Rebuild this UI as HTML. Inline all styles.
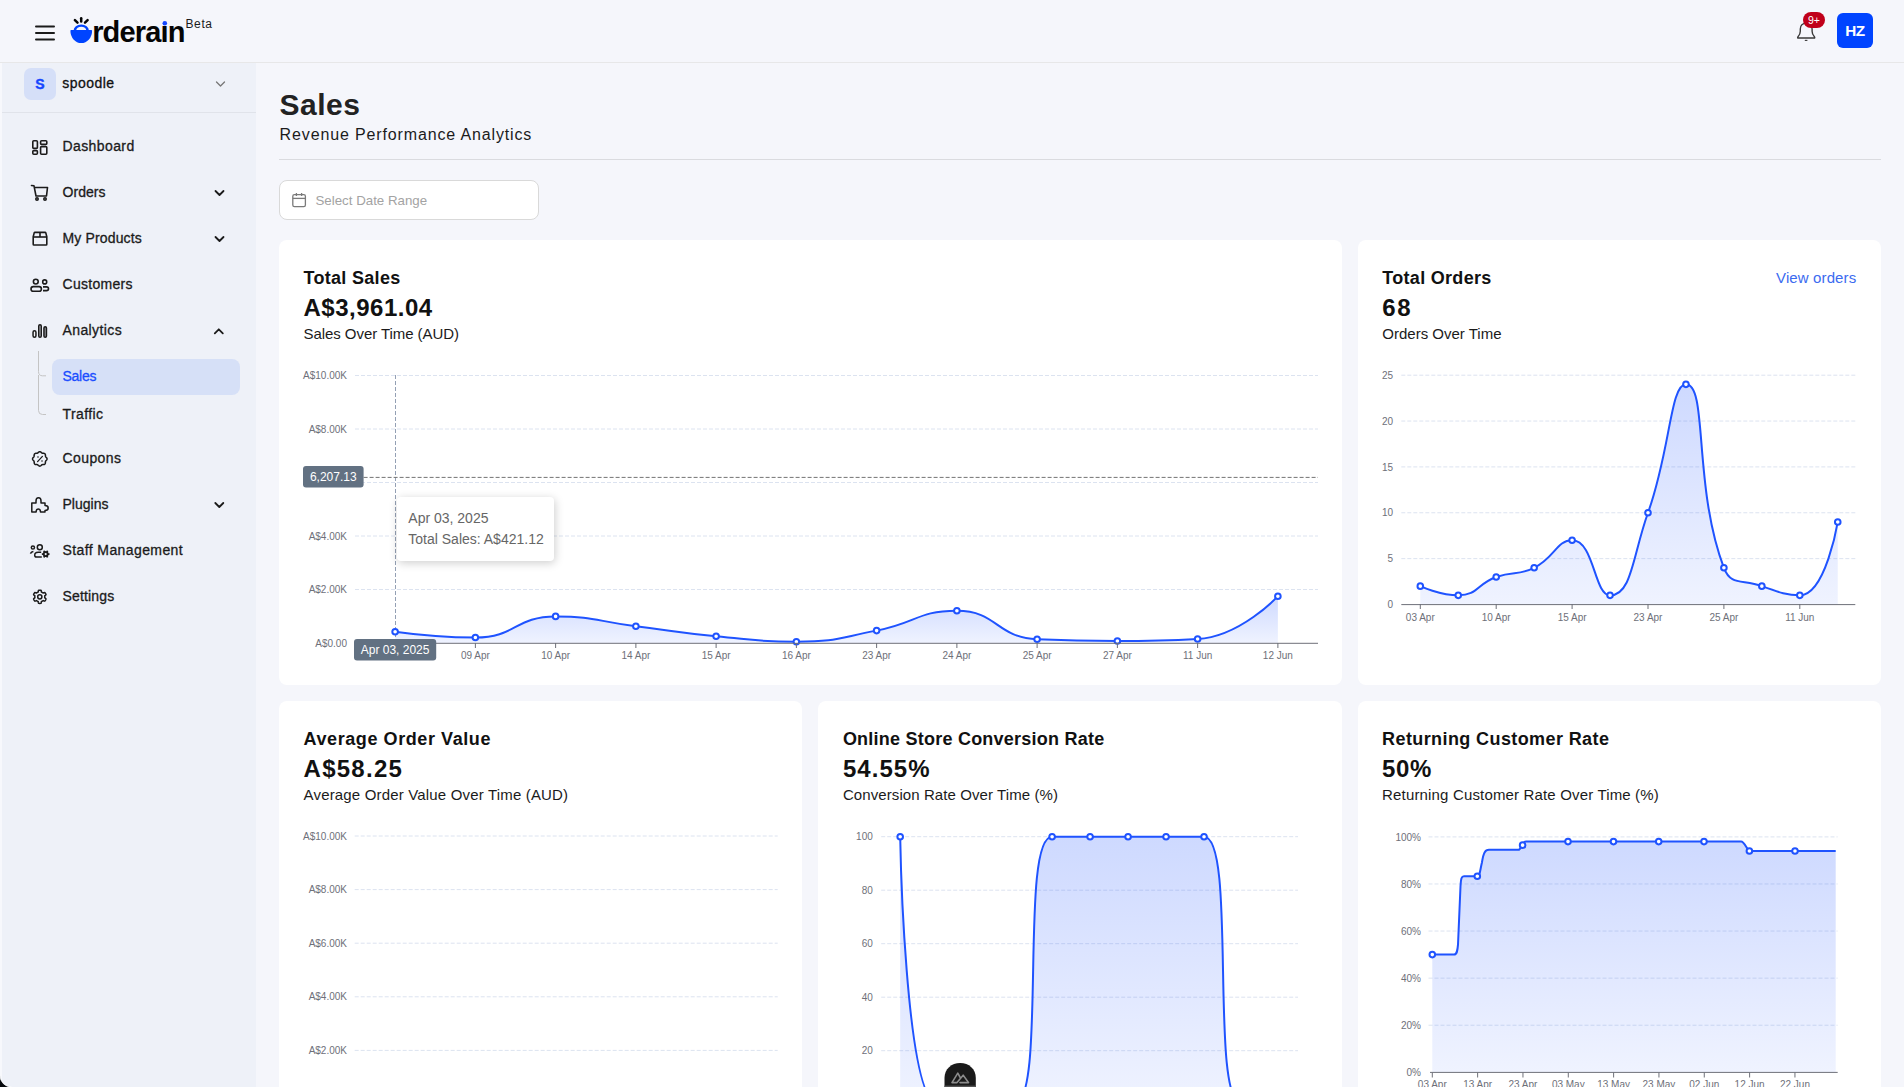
<!DOCTYPE html>
<html><head><meta charset="utf-8"><title>Sales - Orderain</title>
<style>
*{box-sizing:border-box;margin:0;padding:0}
html,body{width:1904px;height:1087px;overflow:hidden;background:#f5f6fb;font-family:"Liberation Sans", sans-serif;}
.t{position:absolute;white-space:nowrap;}
.abs{position:absolute;}
#header{position:absolute;left:0;top:0;width:1904px;height:63px;background:#f5f6fb;border-bottom:1px solid #e7e7e8;}
#sidebar{position:absolute;left:0;top:63px;width:256px;height:1024px;background:#eef1f8;}
.store{position:absolute;left:0;top:0;width:256px;height:50px;border-bottom:1px solid #e0e3ea;}
.card{position:absolute;background:#fff;border-radius:8px;}
svg{position:absolute;left:0;top:0;overflow:visible}
</style></head><body>

<div id="header"></div>
<div id="sidebar"><div class="store"></div></div>
<div class="abs" style="left:0;top:63px;width:1.5px;height:1024px;background:#f7f8fc;"></div>
<div class="abs" style="left:24px;top:68px;width:32px;height:32px;border-radius:7px;background:#d5dff8;"></div>
<div class="abs" style="left:52px;top:359px;width:188px;height:36px;border-radius:8px;background:#d6e0f7;"></div>
<div class="abs" style="left:279px;top:159px;width:1602px;height:1px;background:#dadbdf;"></div>
<div class="abs" style="left:279px;top:180px;width:260px;height:40px;border-radius:8px;background:#fff;border:1px solid #d9d9d9;"></div>
<div class="card" style="left:279px;top:240px;width:1063px;height:445px;"></div>
<div class="card" style="left:1358px;top:240px;width:523px;height:445px;"></div>
<div class="card" style="left:279px;top:701px;width:523px;height:500px;"></div>
<div class="card" style="left:818px;top:701px;width:524px;height:500px;"></div>
<div class="card" style="left:1358px;top:701px;width:523px;height:500px;"></div>
<div class="t" style="top:18.25px;font-size:29px;line-height:29px;color:#050505;font-weight:700;letter-spacing:-0.85px;left:92.20px;">rderaın</div>
<div class="t" style="top:17.84px;font-size:12px;line-height:12px;color:#1b1b1b;font-weight:400;letter-spacing:0.6px;left:185.50px;">Beta</div>
<div class="abs" style="left:1837px;top:12.8px;width:36.2px;height:35.3px;border-radius:6px;background:#0044ff;"></div>
<div class="t" style="top:22.95px;font-size:15.3px;line-height:15.3px;color:#fff;font-weight:700;letter-spacing:-0.5px;left:1855.00px;transform:translateX(-50%);">HZ</div>
<div class="t" style="top:77.15px;font-size:14px;line-height:14px;color:#1546ff;font-weight:700;left:40.00px;transform:translateX(-50%);-webkit-text-stroke:0.4px currentColor;">S</div>
<div class="t" style="top:76.15px;font-size:14px;line-height:14px;color:#111;font-weight:400;letter-spacing:0.45px;left:62.30px;-webkit-text-stroke:0.3px currentColor;">spoodle</div>
<div class="t" style="top:139.15px;font-size:14px;line-height:14px;color:#1b1b1b;font-weight:400;letter-spacing:0.4px;left:62.50px;-webkit-text-stroke:0.3px currentColor;">Dashboard</div>
<div class="t" style="top:185.15px;font-size:14px;line-height:14px;color:#1b1b1b;font-weight:400;letter-spacing:0.06px;left:62.50px;-webkit-text-stroke:0.3px currentColor;">Orders</div>
<div class="t" style="top:231.15px;font-size:14px;line-height:14px;color:#1b1b1b;font-weight:400;letter-spacing:0.15px;left:62.50px;-webkit-text-stroke:0.3px currentColor;">My Products</div>
<div class="t" style="top:277.15px;font-size:14px;line-height:14px;color:#1b1b1b;font-weight:400;letter-spacing:0.3px;left:62.50px;-webkit-text-stroke:0.3px currentColor;">Customers</div>
<div class="t" style="top:323.15px;font-size:14px;line-height:14px;color:#1b1b1b;font-weight:400;letter-spacing:0.4px;left:62.50px;-webkit-text-stroke:0.3px currentColor;">Analytics</div>
<div class="t" style="top:451.15px;font-size:14px;line-height:14px;color:#1b1b1b;font-weight:400;letter-spacing:0.4px;left:62.50px;-webkit-text-stroke:0.3px currentColor;">Coupons</div>
<div class="t" style="top:497.15px;font-size:14px;line-height:14px;color:#1b1b1b;font-weight:400;left:62.50px;-webkit-text-stroke:0.3px currentColor;">Plugins</div>
<div class="t" style="top:543.15px;font-size:14px;line-height:14px;color:#1b1b1b;font-weight:400;letter-spacing:0.4px;left:62.50px;-webkit-text-stroke:0.3px currentColor;">Staff Management</div>
<div class="t" style="top:589.15px;font-size:14px;line-height:14px;color:#1b1b1b;font-weight:400;letter-spacing:0.17px;left:62.50px;-webkit-text-stroke:0.3px currentColor;">Settings</div>
<div class="t" style="top:369.15px;font-size:14px;line-height:14px;color:#1a4dff;font-weight:400;letter-spacing:-0.27px;left:62.50px;-webkit-text-stroke:0.3px currentColor;">Sales</div>
<div class="t" style="top:406.85px;font-size:14px;line-height:14px;color:#1b1b1b;font-weight:400;letter-spacing:0.4px;left:62.50px;-webkit-text-stroke:0.3px currentColor;">Traffic</div>
<div class="t" style="top:90.10px;font-size:30px;line-height:30px;color:#222;font-weight:700;letter-spacing:0.5px;left:279.60px;">Sales</div>
<div class="t" style="top:126.85px;font-size:16px;line-height:16px;color:#1b1b1b;font-weight:400;letter-spacing:0.86px;left:279.60px;">Revenue Performance Analytics</div>
<div class="t" style="top:193.74px;font-size:13.3px;line-height:13.3px;color:#a3a3a3;font-weight:400;left:315.50px;">Select Date Range</div>
<div class="t" style="top:268.96px;font-size:18px;line-height:18px;color:#111;font-weight:700;letter-spacing:0.3px;left:303.50px;">Total Sales</div>
<div class="t" style="top:295.88px;font-size:24px;line-height:24px;color:#111;font-weight:700;letter-spacing:0.5px;left:303.50px;">A$3,961.04</div>
<div class="t" style="top:325.90px;font-size:15px;line-height:15px;color:#1b1b1b;font-weight:400;letter-spacing:-0.06px;left:303.50px;">Sales Over Time (AUD)</div>
<div class="t" style="top:268.96px;font-size:18px;line-height:18px;color:#111;font-weight:700;letter-spacing:0.3px;left:1382.30px;">Total Orders</div>
<div class="t" style="top:295.88px;font-size:24px;line-height:24px;color:#111;font-weight:700;letter-spacing:1.6px;left:1382.30px;">68</div>
<div class="t" style="top:325.90px;font-size:15px;line-height:15px;color:#1b1b1b;font-weight:400;left:1382.30px;">Orders Over Time</div>
<div class="t" style="top:270.30px;font-size:15px;line-height:15px;color:#3b6bf0;font-weight:400;letter-spacing:0.12px;right:47.80px;margin-right:-0.12px;">View orders</div>
<div class="t" style="top:729.96px;font-size:18px;line-height:18px;color:#111;font-weight:700;letter-spacing:0.58px;left:303.60px;">Average Order Value</div>
<div class="t" style="top:756.88px;font-size:24px;line-height:24px;color:#111;font-weight:700;letter-spacing:1.25px;left:303.60px;">A$58.25</div>
<div class="t" style="top:786.90px;font-size:15px;line-height:15px;color:#1b1b1b;font-weight:400;letter-spacing:0.17px;left:303.60px;">Average Order Value Over Time (AUD)</div>
<div class="t" style="top:729.96px;font-size:18px;line-height:18px;color:#111;font-weight:700;letter-spacing:0.23px;left:842.90px;">Online Store Conversion Rate</div>
<div class="t" style="top:756.88px;font-size:24px;line-height:24px;color:#111;font-weight:700;letter-spacing:1.06px;left:842.90px;">54.55%</div>
<div class="t" style="top:786.90px;font-size:15px;line-height:15px;color:#1b1b1b;font-weight:400;letter-spacing:0.09px;left:842.90px;">Conversion Rate Over Time (%)</div>
<div class="t" style="top:729.96px;font-size:18px;line-height:18px;color:#111;font-weight:700;letter-spacing:0.4px;left:1382.10px;">Returning Customer Rate</div>
<div class="t" style="top:756.88px;font-size:24px;line-height:24px;color:#111;font-weight:700;letter-spacing:0.6px;left:1382.10px;">50%</div>
<div class="t" style="top:786.90px;font-size:15px;line-height:15px;color:#1b1b1b;font-weight:400;letter-spacing:0.16px;left:1382.10px;">Returning Customer Rate Over Time (%)</div>
<svg width="1904" height="1087" viewBox="0 0 1904 1087" style="font-family:"Liberation Sans", sans-serif"><defs>
<linearGradient id="ga" x1="0" y1="0" x2="0" y2="1">
<stop offset="0" stop-color="#1f53ff" stop-opacity="0.22"/><stop offset="1" stop-color="#1f53ff" stop-opacity="0.07"/></linearGradient>
</defs><line x1="355" y1="589.50" x2="1318" y2="589.50" stroke="#dce3f0" stroke-width="1" stroke-dasharray="4 2"/><line x1="355" y1="536.00" x2="1318" y2="536.00" stroke="#dce3f0" stroke-width="1" stroke-dasharray="4 2"/><line x1="355" y1="482.50" x2="1318" y2="482.50" stroke="#dce3f0" stroke-width="1" stroke-dasharray="4 2"/><line x1="355" y1="429.00" x2="1318" y2="429.00" stroke="#dce3f0" stroke-width="1" stroke-dasharray="4 2"/><line x1="355" y1="375.50" x2="1318" y2="375.50" stroke="#dce3f0" stroke-width="1" stroke-dasharray="4 2"/><text x="347.00" y="646.60" font-size="10" fill="#6e7079" text-anchor="end" font-weight="400">A$0.00</text><text x="347.00" y="593.10" font-size="10" fill="#6e7079" text-anchor="end" font-weight="400">A$2.00K</text><text x="347.00" y="539.60" font-size="10" fill="#6e7079" text-anchor="end" font-weight="400">A$4.00K</text><text x="347.00" y="486.10" font-size="10" fill="#6e7079" text-anchor="end" font-weight="400">A$6.00K</text><text x="347.00" y="432.60" font-size="10" fill="#6e7079" text-anchor="end" font-weight="400">A$8.00K</text><text x="347.00" y="379.10" font-size="10" fill="#6e7079" text-anchor="end" font-weight="400">A$10.00K</text><line x1="395.5" y1="375" x2="395.5" y2="643" stroke="#94a0b4" stroke-width="1" stroke-dasharray="4 2"/><path d="M395.12,631.71 C395.12,631.71 435.87,637.52 475.38,637.52 C516.12,637.52 514.98,616.41 555.62,616.41 C595.23,616.41 595.76,621.25 635.88,626.20 C676.01,631.15 675.89,632.32 716.12,636.21 C756.14,640.07 756.39,641.69 796.38,641.69 C836.64,641.69 836.90,638.26 876.62,630.61 C917.15,622.81 917.34,610.79 956.88,610.79 C997.59,610.79 995.82,637.30 1037.12,639.20 C1076.07,640.99 1077.25,640.99 1117.38,640.99 C1157.50,640.99 1160.00,640.99 1197.62,638.99 C1240.25,636.71 1277.88,596.19 1277.88,596.19 L1277.88,643.00 L395.12,643.00 Z" fill="url(#ga)"/><path d="M395.12,631.71 C395.12,631.71 435.87,637.52 475.38,637.52 C516.12,637.52 514.98,616.41 555.62,616.41 C595.23,616.41 595.76,621.25 635.88,626.20 C676.01,631.15 675.89,632.32 716.12,636.21 C756.14,640.07 756.39,641.69 796.38,641.69 C836.64,641.69 836.90,638.26 876.62,630.61 C917.15,622.81 917.34,610.79 956.88,610.79 C997.59,610.79 995.82,637.30 1037.12,639.20 C1076.07,640.99 1077.25,640.99 1117.38,640.99 C1157.50,640.99 1160.00,640.99 1197.62,638.99 C1240.25,636.71 1277.88,596.19 1277.88,596.19" fill="none" stroke="#1f53ff" stroke-width="2"/><circle cx="395.12" cy="631.71" r="2.8" fill="#fff" stroke="#1f53ff" stroke-width="2"/><circle cx="475.38" cy="637.52" r="2.8" fill="#fff" stroke="#1f53ff" stroke-width="2"/><circle cx="555.62" cy="616.41" r="2.8" fill="#fff" stroke="#1f53ff" stroke-width="2"/><circle cx="635.88" cy="626.20" r="2.8" fill="#fff" stroke="#1f53ff" stroke-width="2"/><circle cx="716.12" cy="636.21" r="2.8" fill="#fff" stroke="#1f53ff" stroke-width="2"/><circle cx="796.38" cy="641.69" r="2.8" fill="#fff" stroke="#1f53ff" stroke-width="2"/><circle cx="876.62" cy="630.61" r="2.8" fill="#fff" stroke="#1f53ff" stroke-width="2"/><circle cx="956.88" cy="610.79" r="2.8" fill="#fff" stroke="#1f53ff" stroke-width="2"/><circle cx="1037.12" cy="639.20" r="2.8" fill="#fff" stroke="#1f53ff" stroke-width="2"/><circle cx="1117.38" cy="640.99" r="2.8" fill="#fff" stroke="#1f53ff" stroke-width="2"/><circle cx="1197.62" cy="638.99" r="2.8" fill="#fff" stroke="#1f53ff" stroke-width="2"/><circle cx="1277.88" cy="596.19" r="2.8" fill="#fff" stroke="#1f53ff" stroke-width="2"/><line x1="355" y1="643.3" x2="1318" y2="643.3" stroke="#6e7079" stroke-width="1"/><line x1="395.12" y1="643" x2="395.12" y2="648" stroke="#6e7079" stroke-width="1"/><line x1="475.38" y1="643" x2="475.38" y2="648" stroke="#6e7079" stroke-width="1"/><text x="475.38" y="659.00" font-size="10" fill="#6e7079" text-anchor="middle" font-weight="400">09 Apr</text><line x1="555.62" y1="643" x2="555.62" y2="648" stroke="#6e7079" stroke-width="1"/><text x="555.62" y="659.00" font-size="10" fill="#6e7079" text-anchor="middle" font-weight="400">10 Apr</text><line x1="635.88" y1="643" x2="635.88" y2="648" stroke="#6e7079" stroke-width="1"/><text x="635.88" y="659.00" font-size="10" fill="#6e7079" text-anchor="middle" font-weight="400">14 Apr</text><line x1="716.12" y1="643" x2="716.12" y2="648" stroke="#6e7079" stroke-width="1"/><text x="716.12" y="659.00" font-size="10" fill="#6e7079" text-anchor="middle" font-weight="400">15 Apr</text><line x1="796.38" y1="643" x2="796.38" y2="648" stroke="#6e7079" stroke-width="1"/><text x="796.38" y="659.00" font-size="10" fill="#6e7079" text-anchor="middle" font-weight="400">16 Apr</text><line x1="876.62" y1="643" x2="876.62" y2="648" stroke="#6e7079" stroke-width="1"/><text x="876.62" y="659.00" font-size="10" fill="#6e7079" text-anchor="middle" font-weight="400">23 Apr</text><line x1="956.88" y1="643" x2="956.88" y2="648" stroke="#6e7079" stroke-width="1"/><text x="956.88" y="659.00" font-size="10" fill="#6e7079" text-anchor="middle" font-weight="400">24 Apr</text><line x1="1037.12" y1="643" x2="1037.12" y2="648" stroke="#6e7079" stroke-width="1"/><text x="1037.12" y="659.00" font-size="10" fill="#6e7079" text-anchor="middle" font-weight="400">25 Apr</text><line x1="1117.38" y1="643" x2="1117.38" y2="648" stroke="#6e7079" stroke-width="1"/><text x="1117.38" y="659.00" font-size="10" fill="#6e7079" text-anchor="middle" font-weight="400">27 Apr</text><line x1="1197.62" y1="643" x2="1197.62" y2="648" stroke="#6e7079" stroke-width="1"/><text x="1197.62" y="659.00" font-size="10" fill="#6e7079" text-anchor="middle" font-weight="400">11 Jun</text><line x1="1277.88" y1="643" x2="1277.88" y2="648" stroke="#6e7079" stroke-width="1"/><text x="1277.88" y="659.00" font-size="10" fill="#6e7079" text-anchor="middle" font-weight="400">12 Jun</text><line x1="363.6" y1="477.4" x2="1318" y2="477.4" stroke="#747474" stroke-width="1" stroke-dasharray="4 2"/><rect x="303" y="466" width="60.6" height="21.6" rx="3" fill="#627182"/><text x="333.30" y="481.20" font-size="12" fill="#fff" text-anchor="middle" font-weight="400">6,207.13</text><rect x="354" y="639" width="82.2" height="21.6" rx="3" fill="#627182"/><text x="395.10" y="654.00" font-size="12" fill="#fff" text-anchor="middle" font-weight="400">Apr 03, 2025</text><line x1="1401.3" y1="558.64" x2="1855.3" y2="558.64" stroke="#dce3f0" stroke-width="1" stroke-dasharray="4 2"/><line x1="1401.3" y1="512.78" x2="1855.3" y2="512.78" stroke="#dce3f0" stroke-width="1" stroke-dasharray="4 2"/><line x1="1401.3" y1="466.92" x2="1855.3" y2="466.92" stroke="#dce3f0" stroke-width="1" stroke-dasharray="4 2"/><line x1="1401.3" y1="421.06" x2="1855.3" y2="421.06" stroke="#dce3f0" stroke-width="1" stroke-dasharray="4 2"/><line x1="1401.3" y1="375.20" x2="1855.3" y2="375.20" stroke="#dce3f0" stroke-width="1" stroke-dasharray="4 2"/><text x="1393.00" y="608.10" font-size="10" fill="#6e7079" text-anchor="end" font-weight="400">0</text><text x="1393.00" y="562.24" font-size="10" fill="#6e7079" text-anchor="end" font-weight="400">5</text><text x="1393.00" y="516.38" font-size="10" fill="#6e7079" text-anchor="end" font-weight="400">10</text><text x="1393.00" y="470.52" font-size="10" fill="#6e7079" text-anchor="end" font-weight="400">15</text><text x="1393.00" y="424.66" font-size="10" fill="#6e7079" text-anchor="end" font-weight="400">20</text><text x="1393.00" y="378.80" font-size="10" fill="#6e7079" text-anchor="end" font-weight="400">25</text><path d="M1420.30,586.16 C1420.30,586.16 1440.00,595.33 1458.25,595.33 C1477.95,595.33 1476.50,584.13 1496.20,576.98 C1514.45,570.37 1516.90,576.15 1534.15,567.81 C1554.85,557.80 1556.46,540.30 1572.10,540.30 C1594.41,540.30 1593.96,595.33 1610.05,595.33 C1631.91,595.33 1632.66,555.42 1648.00,512.78 C1670.61,449.94 1670.13,384.37 1685.95,384.37 C1708.08,384.37 1692.92,486.29 1723.90,567.81 C1730.87,586.16 1742.15,579.01 1761.85,586.16 C1780.10,592.77 1787.62,595.33 1799.80,595.33 C1825.57,595.33 1837.75,521.95 1837.75,521.95 L1837.75,604.50 L1420.30,604.50 Z" fill="url(#ga)"/><path d="M1420.30,586.16 C1420.30,586.16 1440.00,595.33 1458.25,595.33 C1477.95,595.33 1476.50,584.13 1496.20,576.98 C1514.45,570.37 1516.90,576.15 1534.15,567.81 C1554.85,557.80 1556.46,540.30 1572.10,540.30 C1594.41,540.30 1593.96,595.33 1610.05,595.33 C1631.91,595.33 1632.66,555.42 1648.00,512.78 C1670.61,449.94 1670.13,384.37 1685.95,384.37 C1708.08,384.37 1692.92,486.29 1723.90,567.81 C1730.87,586.16 1742.15,579.01 1761.85,586.16 C1780.10,592.77 1787.62,595.33 1799.80,595.33 C1825.57,595.33 1837.75,521.95 1837.75,521.95" fill="none" stroke="#1f53ff" stroke-width="2"/><circle cx="1420.30" cy="586.16" r="2.8" fill="#fff" stroke="#1f53ff" stroke-width="2"/><circle cx="1458.25" cy="595.33" r="2.8" fill="#fff" stroke="#1f53ff" stroke-width="2"/><circle cx="1496.20" cy="576.98" r="2.8" fill="#fff" stroke="#1f53ff" stroke-width="2"/><circle cx="1534.15" cy="567.81" r="2.8" fill="#fff" stroke="#1f53ff" stroke-width="2"/><circle cx="1572.10" cy="540.30" r="2.8" fill="#fff" stroke="#1f53ff" stroke-width="2"/><circle cx="1610.05" cy="595.33" r="2.8" fill="#fff" stroke="#1f53ff" stroke-width="2"/><circle cx="1648.00" cy="512.78" r="2.8" fill="#fff" stroke="#1f53ff" stroke-width="2"/><circle cx="1685.95" cy="384.37" r="2.8" fill="#fff" stroke="#1f53ff" stroke-width="2"/><circle cx="1723.90" cy="567.81" r="2.8" fill="#fff" stroke="#1f53ff" stroke-width="2"/><circle cx="1761.85" cy="586.16" r="2.8" fill="#fff" stroke="#1f53ff" stroke-width="2"/><circle cx="1799.80" cy="595.33" r="2.8" fill="#fff" stroke="#1f53ff" stroke-width="2"/><circle cx="1837.75" cy="521.95" r="2.8" fill="#fff" stroke="#1f53ff" stroke-width="2"/><line x1="1401.3" y1="604.6" x2="1855.3" y2="604.6" stroke="#6e7079" stroke-width="1"/><line x1="1420.30" y1="604" x2="1420.30" y2="609" stroke="#6e7079" stroke-width="1"/><text x="1420.30" y="621.00" font-size="10" fill="#6e7079" text-anchor="middle" font-weight="400">03 Apr</text><line x1="1496.20" y1="604" x2="1496.20" y2="609" stroke="#6e7079" stroke-width="1"/><text x="1496.20" y="621.00" font-size="10" fill="#6e7079" text-anchor="middle" font-weight="400">10 Apr</text><line x1="1572.10" y1="604" x2="1572.10" y2="609" stroke="#6e7079" stroke-width="1"/><text x="1572.10" y="621.00" font-size="10" fill="#6e7079" text-anchor="middle" font-weight="400">15 Apr</text><line x1="1648.00" y1="604" x2="1648.00" y2="609" stroke="#6e7079" stroke-width="1"/><text x="1648.00" y="621.00" font-size="10" fill="#6e7079" text-anchor="middle" font-weight="400">23 Apr</text><line x1="1723.90" y1="604" x2="1723.90" y2="609" stroke="#6e7079" stroke-width="1"/><text x="1723.90" y="621.00" font-size="10" fill="#6e7079" text-anchor="middle" font-weight="400">25 Apr</text><line x1="1799.80" y1="604" x2="1799.80" y2="609" stroke="#6e7079" stroke-width="1"/><text x="1799.80" y="621.00" font-size="10" fill="#6e7079" text-anchor="middle" font-weight="400">11 Jun</text><line x1="354.7" y1="1050.40" x2="777.7" y2="1050.40" stroke="#dce3f0" stroke-width="1" stroke-dasharray="4 2"/><line x1="354.7" y1="996.80" x2="777.7" y2="996.80" stroke="#dce3f0" stroke-width="1" stroke-dasharray="4 2"/><line x1="354.7" y1="943.20" x2="777.7" y2="943.20" stroke="#dce3f0" stroke-width="1" stroke-dasharray="4 2"/><line x1="354.7" y1="889.60" x2="777.7" y2="889.60" stroke="#dce3f0" stroke-width="1" stroke-dasharray="4 2"/><line x1="354.7" y1="836.00" x2="777.7" y2="836.00" stroke="#dce3f0" stroke-width="1" stroke-dasharray="4 2"/><text x="347.00" y="1054.00" font-size="10" fill="#6e7079" text-anchor="end" font-weight="400">A$2.00K</text><text x="347.00" y="1000.40" font-size="10" fill="#6e7079" text-anchor="end" font-weight="400">A$4.00K</text><text x="347.00" y="946.80" font-size="10" fill="#6e7079" text-anchor="end" font-weight="400">A$6.00K</text><text x="347.00" y="893.20" font-size="10" fill="#6e7079" text-anchor="end" font-weight="400">A$8.00K</text><text x="347.00" y="839.60" font-size="10" fill="#6e7079" text-anchor="end" font-weight="400">A$10.00K</text><line x1="881.2" y1="1050.70" x2="1298" y2="1050.70" stroke="#dce3f0" stroke-width="1" stroke-dasharray="4 2"/><line x1="881.2" y1="997.20" x2="1298" y2="997.20" stroke="#dce3f0" stroke-width="1" stroke-dasharray="4 2"/><line x1="881.2" y1="943.70" x2="1298" y2="943.70" stroke="#dce3f0" stroke-width="1" stroke-dasharray="4 2"/><line x1="881.2" y1="890.20" x2="1298" y2="890.20" stroke="#dce3f0" stroke-width="1" stroke-dasharray="4 2"/><line x1="881.2" y1="836.70" x2="1298" y2="836.70" stroke="#dce3f0" stroke-width="1" stroke-dasharray="4 2"/><text x="872.80" y="1054.30" font-size="10" fill="#6e7079" text-anchor="end" font-weight="400">20</text><text x="872.80" y="1000.80" font-size="10" fill="#6e7079" text-anchor="end" font-weight="400">40</text><text x="872.80" y="947.30" font-size="10" fill="#6e7079" text-anchor="end" font-weight="400">60</text><text x="872.80" y="893.80" font-size="10" fill="#6e7079" text-anchor="end" font-weight="400">80</text><text x="872.80" y="840.30" font-size="10" fill="#6e7079" text-anchor="end" font-weight="400">100</text><clipPath id="clipc"><rect x="818" y="701" width="524" height="386"/></clipPath><path d="M900.19,836.70 C900.19,836.70 904.87,1104.20 938.17,1104.20 C942.85,1104.20 957.16,1104.20 976.15,1104.20 C995.14,1104.20 1009.45,1104.20 1014.13,1104.20 C1047.43,1104.20 1018.81,836.70 1052.11,836.70 C1056.79,836.70 1071.10,836.70 1090.09,836.70 C1109.08,836.70 1109.08,836.70 1128.07,836.70 C1147.06,836.70 1147.06,836.70 1166.05,836.70 C1185.04,836.70 1199.35,836.70 1204.03,836.70 C1237.33,836.70 1208.71,1104.20 1242.01,1104.20 C1246.69,1104.20 1279.99,1104.20 1279.99,1104.20 L1279.99,1104.20 L900.19,1104.20 Z" fill="url(#ga)" clip-path="url(#clipc)"/><path d="M900.19,836.70 C900.19,836.70 904.87,1104.20 938.17,1104.20 C942.85,1104.20 957.16,1104.20 976.15,1104.20 C995.14,1104.20 1009.45,1104.20 1014.13,1104.20 C1047.43,1104.20 1018.81,836.70 1052.11,836.70 C1056.79,836.70 1071.10,836.70 1090.09,836.70 C1109.08,836.70 1109.08,836.70 1128.07,836.70 C1147.06,836.70 1147.06,836.70 1166.05,836.70 C1185.04,836.70 1199.35,836.70 1204.03,836.70 C1237.33,836.70 1208.71,1104.20 1242.01,1104.20 C1246.69,1104.20 1279.99,1104.20 1279.99,1104.20" fill="none" stroke="#1f53ff" stroke-width="2" clip-path="url(#clipc)"/><circle cx="900.19" cy="836.70" r="2.8" fill="#fff" stroke="#1f53ff" stroke-width="2" clip-path="url(#clipc)"/><circle cx="1052.11" cy="836.70" r="2.8" fill="#fff" stroke="#1f53ff" stroke-width="2" clip-path="url(#clipc)"/><circle cx="1090.09" cy="836.70" r="2.8" fill="#fff" stroke="#1f53ff" stroke-width="2" clip-path="url(#clipc)"/><circle cx="1128.07" cy="836.70" r="2.8" fill="#fff" stroke="#1f53ff" stroke-width="2" clip-path="url(#clipc)"/><circle cx="1166.05" cy="836.70" r="2.8" fill="#fff" stroke="#1f53ff" stroke-width="2" clip-path="url(#clipc)"/><circle cx="1204.03" cy="836.70" r="2.8" fill="#fff" stroke="#1f53ff" stroke-width="2" clip-path="url(#clipc)"/><line x1="1428.5" y1="1025.22" x2="1837.6" y2="1025.22" stroke="#dce3f0" stroke-width="1" stroke-dasharray="4 2"/><line x1="1428.5" y1="978.14" x2="1837.6" y2="978.14" stroke="#dce3f0" stroke-width="1" stroke-dasharray="4 2"/><line x1="1428.5" y1="931.06" x2="1837.6" y2="931.06" stroke="#dce3f0" stroke-width="1" stroke-dasharray="4 2"/><line x1="1428.5" y1="883.98" x2="1837.6" y2="883.98" stroke="#dce3f0" stroke-width="1" stroke-dasharray="4 2"/><line x1="1428.5" y1="836.90" x2="1837.6" y2="836.90" stroke="#dce3f0" stroke-width="1" stroke-dasharray="4 2"/><text x="1421.00" y="1075.90" font-size="10" fill="#6e7079" text-anchor="end" font-weight="400">0%</text><text x="1421.00" y="1028.82" font-size="10" fill="#6e7079" text-anchor="end" font-weight="400">20%</text><text x="1421.00" y="981.74" font-size="10" fill="#6e7079" text-anchor="end" font-weight="400">40%</text><text x="1421.00" y="934.66" font-size="10" fill="#6e7079" text-anchor="end" font-weight="400">60%</text><text x="1421.00" y="887.58" font-size="10" fill="#6e7079" text-anchor="end" font-weight="400">80%</text><text x="1421.00" y="840.50" font-size="10" fill="#6e7079" text-anchor="end" font-weight="400">100%</text><path d="M1432.3,954.60 L1454,954.60 C1457,954.60 1457.5,950.60 1458,944.60 L1460.5,886.21 C1461,878.21 1461.5,876.21 1464,876.21 L1477.3,876.21 C1480,876.21 1480,870.21 1482,862.21 C1483.5,852.85 1485,849.85 1489,849.85 L1518.5,849.85 C1521,849.85 1522,841.61 1526,841.61 L1741,841.61 C1745,841.61 1747,851.02 1750,851.02 L1835.7,851.02 L1835.7,1072.30 L1432.3,1072.30 Z" fill="url(#ga)"/><path d="M1432.3,954.60 L1454,954.60 C1457,954.60 1457.5,950.60 1458,944.60 L1460.5,886.21 C1461,878.21 1461.5,876.21 1464,876.21 L1477.3,876.21 C1480,876.21 1480,870.21 1482,862.21 C1483.5,852.85 1485,849.85 1489,849.85 L1518.5,849.85 C1521,849.85 1522,841.61 1526,841.61 L1741,841.61 C1745,841.61 1747,851.02 1750,851.02 L1835.7,851.02" fill="none" stroke="#1f53ff" stroke-width="2"/><circle cx="1432.3" cy="954.60" r="2.8" fill="#fff" stroke="#1f53ff" stroke-width="2"/><circle cx="1477.3" cy="876.21" r="2.8" fill="#fff" stroke="#1f53ff" stroke-width="2"/><circle cx="1522.6" cy="845.14" r="2.8" fill="#fff" stroke="#1f53ff" stroke-width="2"/><circle cx="1568" cy="841.61" r="2.8" fill="#fff" stroke="#1f53ff" stroke-width="2"/><circle cx="1613.5" cy="841.61" r="2.8" fill="#fff" stroke="#1f53ff" stroke-width="2"/><circle cx="1658.7" cy="841.61" r="2.8" fill="#fff" stroke="#1f53ff" stroke-width="2"/><circle cx="1704" cy="841.61" r="2.8" fill="#fff" stroke="#1f53ff" stroke-width="2"/><circle cx="1749.4" cy="851.02" r="2.8" fill="#fff" stroke="#1f53ff" stroke-width="2"/><circle cx="1795" cy="851.02" r="2.8" fill="#fff" stroke="#1f53ff" stroke-width="2"/><line x1="1430" y1="1072.4" x2="1837.7" y2="1072.4" stroke="#6e7079" stroke-width="1"/><line x1="1432.30" y1="1072.5" x2="1432.30" y2="1077.5" stroke="#6e7079" stroke-width="1"/><text x="1432.30" y="1088.00" font-size="10" fill="#6e7079" text-anchor="middle" font-weight="400">03 Apr</text><line x1="1477.63" y1="1072.5" x2="1477.63" y2="1077.5" stroke="#6e7079" stroke-width="1"/><text x="1477.63" y="1088.00" font-size="10" fill="#6e7079" text-anchor="middle" font-weight="400">13 Apr</text><line x1="1522.96" y1="1072.5" x2="1522.96" y2="1077.5" stroke="#6e7079" stroke-width="1"/><text x="1522.96" y="1088.00" font-size="10" fill="#6e7079" text-anchor="middle" font-weight="400">23 Apr</text><line x1="1568.29" y1="1072.5" x2="1568.29" y2="1077.5" stroke="#6e7079" stroke-width="1"/><text x="1568.29" y="1088.00" font-size="10" fill="#6e7079" text-anchor="middle" font-weight="400">03 May</text><line x1="1613.62" y1="1072.5" x2="1613.62" y2="1077.5" stroke="#6e7079" stroke-width="1"/><text x="1613.62" y="1088.00" font-size="10" fill="#6e7079" text-anchor="middle" font-weight="400">13 May</text><line x1="1658.95" y1="1072.5" x2="1658.95" y2="1077.5" stroke="#6e7079" stroke-width="1"/><text x="1658.95" y="1088.00" font-size="10" fill="#6e7079" text-anchor="middle" font-weight="400">23 May</text><line x1="1704.28" y1="1072.5" x2="1704.28" y2="1077.5" stroke="#6e7079" stroke-width="1"/><text x="1704.28" y="1088.00" font-size="10" fill="#6e7079" text-anchor="middle" font-weight="400">02 Jun</text><line x1="1749.61" y1="1072.5" x2="1749.61" y2="1077.5" stroke="#6e7079" stroke-width="1"/><text x="1749.61" y="1088.00" font-size="10" fill="#6e7079" text-anchor="middle" font-weight="400">12 Jun</text><line x1="1794.94" y1="1072.5" x2="1794.94" y2="1077.5" stroke="#6e7079" stroke-width="1"/><text x="1794.94" y="1088.00" font-size="10" fill="#6e7079" text-anchor="middle" font-weight="400">22 Jun</text><g stroke="#1b1b1b" stroke-width="2" stroke-linecap="round"><line x1="36" y1="26.5" x2="54" y2="26.5"/><line x1="36" y1="33" x2="54" y2="33"/><line x1="36" y1="39.5" x2="54" y2="39.5"/></g><path d="M71.2,29.9 L91.3,29.9 Q92.1,29.9 92.1,30.8 A10.85,12.3 0 0 1 70.4,30.8 Q70.4,29.9 71.2,29.9 Z" fill="#0044ff"/><path d="M73.6,30.4 A7.65,5.9 0 0 1 88.9,30.4 L86.3,30.4 A5.05,3.7 0 0 0 76.2,30.4 Z" fill="#0044ff"/><g stroke="#050505" stroke-width="2.5" stroke-linecap="round"><line x1="74.9" y1="20.2" x2="77.5" y2="22.7"/><line x1="81.2" y1="18.3" x2="81.2" y2="21.6"/><line x1="87.6" y1="20.2" x2="85" y2="22.7"/></g><circle cx="164.8" cy="23.3" r="2.3" fill="#1447ff"/><path d="M1797.8,38 L1814.6,38 Q1815,37.4 1814.4,36.7 C1812.7,35 1812.1,33.6 1812.1,31.2 L1812.1,29 C1812.1,25.6 1809.7,23.3 1806.2,23.3 C1802.7,23.3 1800.3,25.6 1800.3,29 L1800.3,31.2 C1800.3,33.6 1799.7,35 1798,36.7 Q1797.4,37.4 1797.8,38 Z" fill="none" stroke="#3a3a3a" stroke-width="1.4" stroke-linejoin="round"/><line x1="1804.8" y1="40.4" x2="1807.4" y2="40.4" stroke="#3a3a3a" stroke-width="1.1"/><polyline points="216.5,82 220.5,86 224.5,82" fill="none" stroke="#777" stroke-width="1.3" stroke-linecap="round" stroke-linejoin="round"/><polyline points="215.5,191 219.5,195 223.5,191" fill="none" stroke="#1b1b1b" stroke-width="1.8" stroke-linecap="round" stroke-linejoin="round"/><polyline points="215.5,237 219.5,241 223.5,237" fill="none" stroke="#1b1b1b" stroke-width="1.8" stroke-linecap="round" stroke-linejoin="round"/><polyline points="214.8,333.3 218.8,329.3 222.8,333.3" fill="none" stroke="#1b1b1b" stroke-width="1.8" stroke-linecap="round" stroke-linejoin="round"/><polyline points="215.3,503 219.3,507 223.3,503" fill="none" stroke="#1b1b1b" stroke-width="1.8" stroke-linecap="round" stroke-linejoin="round"/><g fill="none" stroke="#1b1b1b" stroke-width="1.6"><rect x="32.8" y="140.8" width="4.6" height="7.6" rx="1"/><rect x="32.8" y="150.6" width="4.6" height="3.6" rx="1"/><rect x="40.6" y="140.8" width="6.2" height="3.6" rx="1"/><rect x="40.6" y="146.6" width="6.2" height="7.6" rx="1"/></g><g fill="none" stroke="#1b1b1b" stroke-width="1.6" stroke-linecap="round" stroke-linejoin="round"><path d="M31.5,185.5 L34,185.8 L36,196 L46.5,196 L47.5,187.5 L34.4,187.5"/><circle cx="37" cy="199" r="1.2"/><circle cx="45" cy="199" r="1.2"/></g><g fill="none" stroke="#1b1b1b" stroke-width="1.6" stroke-linejoin="round"><path d="M34.9,232.4 L45.1,232.4 Q45.6,232.4 45.8,232.9 L46.8,236.8 L46.8,244.3 Q46.8,245 46.1,245 L33.9,245 Q33.2,245 33.2,244.3 L33.2,236.8 L34.2,232.9 Q34.4,232.4 34.9,232.4 Z"/><line x1="33.2" y1="237" x2="46.8" y2="237"/><line x1="40" y1="232.4" x2="40" y2="237"/></g><g fill="none" stroke="#1b1b1b" stroke-width="1.6"><circle cx="35.8" cy="281.6" r="2.4"/><rect x="31" y="286.6" width="10.4" height="4.6" rx="2.3"/><circle cx="44.7" cy="281.9" r="2.0"/><path d="M43,286.9 L46.5,286.9 C47.7,286.9 48.5,287.8 48.5,288.8 C48.5,289.8 47.7,290.6 46.5,290.6 L43,290.6"/></g><g stroke="#1b1b1b" stroke-width="1.5"><rect x="33.05" y="330.85" width="2.9" height="6.3" rx="1.45" fill="#f4f5f8"/><rect x="38.75" y="324.75" width="2.5" height="12.4" rx="1.25" fill="#c4c6cc"/><rect x="43.95" y="326.65" width="2.5" height="10.5" rx="1.25" fill="#9a9ca2"/></g><path d="M38.5,351 L38.5,371.5 Q38.5,375.8 42.5,375.8 L46,375.8 M38.5,375 L38.5,410.5 Q38.5,414.5 42.5,414.5 L46,414.5" fill="none" stroke="#c4c4c4" stroke-width="1"/><polygon points="47.05,458.90 47.00,459.28 46.85,459.64 46.62,459.98 46.35,460.29 46.08,460.58 45.83,460.86 45.65,461.14 45.52,461.45 45.45,461.78 45.43,462.15 45.42,462.55 45.39,462.96 45.31,463.36 45.16,463.72 44.93,464.03 44.62,464.26 44.26,464.41 43.86,464.49 43.45,464.52 43.05,464.53 42.68,464.55 42.35,464.62 42.04,464.75 41.76,464.93 41.48,465.18 41.19,465.45 40.88,465.72 40.54,465.95 40.18,466.10 39.80,466.15 39.42,466.10 39.06,465.95 38.72,465.72 38.41,465.45 38.12,465.18 37.84,464.93 37.56,464.75 37.25,464.62 36.92,464.55 36.55,464.53 36.15,464.52 35.74,464.49 35.34,464.41 34.98,464.26 34.67,464.03 34.44,463.72 34.29,463.36 34.21,462.96 34.18,462.55 34.17,462.15 34.15,461.78 34.08,461.45 33.95,461.14 33.77,460.86 33.52,460.58 33.25,460.29 32.98,459.98 32.75,459.64 32.60,459.28 32.55,458.90 32.60,458.52 32.75,458.16 32.98,457.82 33.25,457.51 33.52,457.22 33.77,456.94 33.95,456.66 34.08,456.35 34.15,456.02 34.17,455.65 34.18,455.25 34.21,454.84 34.29,454.44 34.44,454.08 34.67,453.77 34.98,453.54 35.34,453.39 35.74,453.31 36.15,453.28 36.55,453.27 36.92,453.25 37.25,453.18 37.56,453.05 37.84,452.87 38.12,452.62 38.41,452.35 38.72,452.08 39.06,451.85 39.42,451.70 39.80,451.65 40.18,451.70 40.54,451.85 40.88,452.08 41.19,452.35 41.48,452.62 41.76,452.87 42.04,453.05 42.35,453.18 42.68,453.25 43.05,453.27 43.45,453.28 43.86,453.31 44.26,453.39 44.62,453.54 44.93,453.77 45.16,454.08 45.31,454.44 45.39,454.84 45.42,455.25 45.43,455.65 45.45,456.02 45.52,456.35 45.65,456.66 45.83,456.94 46.08,457.22 46.35,457.51 46.62,457.82 46.85,458.16 47.00,458.52" fill="none" stroke="#1b1b1b" stroke-width="1.5"/><g stroke="#1b1b1b" stroke-width="1.3" stroke-linecap="round"><line x1="37.6" y1="461.6" x2="42.4" y2="456.4"/></g><circle cx="38" cy="457" r="0.8" fill="#1b1b1b"/><circle cx="42" cy="461" r="0.8" fill="#1b1b1b"/><path d="M31.8,512 L31.8,503 L36,503 L36,501 C36,498.6 37.2,497.8 38.5,497.8 C39.8,497.8 41,498.6 41,501 L41,503 L45,503 L45,505.5 C47.3,505.5 48.2,506.6 48.2,508 C48.2,509.4 47.3,510.5 45,510.5 L45,512 L40.5,512 C40.5,509.8 39.5,508.9 38.3,508.9 C37.1,508.9 36.1,509.8 36.1,512 Z" fill="none" stroke="#1b1b1b" stroke-width="1.5" stroke-linejoin="round"/><g fill="none" stroke="#1b1b1b" stroke-width="1.5"><circle cx="39.8" cy="547.3" r="2.5"/><path d="M41.8,557 L36.6,557 C35.4,557 34.7,556.2 34.7,555.2 C34.7,553.4 36.2,552.3 38.2,552.3 L41.2,552.3"/><circle cx="32.9" cy="547.5" r="1.6"/><path d="M30.4,553.6 C31,552.4 32,551.7 33.4,551.6"/></g><polygon points="49.60,554.10 49.59,554.36 49.57,554.61 49.53,554.86 49.03,554.99 48.54,555.06 48.47,555.25 48.39,555.43 48.30,555.60 48.19,555.77 48.08,555.93 47.96,556.08 48.14,556.54 48.27,557.03 48.07,557.19 47.87,557.34 47.65,557.48 47.42,557.60 47.19,557.70 46.95,557.79 46.59,557.43 46.29,557.04 46.09,557.07 45.90,557.09 45.70,557.10 45.50,557.09 45.31,557.07 45.11,557.04 44.81,557.43 44.45,557.79 44.21,557.70 43.98,557.60 43.75,557.48 43.53,557.34 43.33,557.19 43.13,557.03 43.26,556.54 43.44,556.08 43.32,555.93 43.21,555.77 43.10,555.60 43.01,555.43 42.93,555.25 42.86,555.06 42.37,554.99 41.87,554.86 41.83,554.61 41.81,554.36 41.80,554.10 41.81,553.84 41.83,553.59 41.87,553.34 42.37,553.21 42.86,553.14 42.93,552.95 43.01,552.77 43.10,552.60 43.21,552.43 43.32,552.27 43.44,552.12 43.26,551.66 43.13,551.17 43.33,551.01 43.53,550.86 43.75,550.72 43.98,550.60 44.21,550.50 44.45,550.41 44.81,550.77 45.11,551.16 45.31,551.13 45.50,551.11 45.70,551.10 45.90,551.11 46.09,551.13 46.29,551.16 46.59,550.77 46.95,550.41 47.19,550.50 47.42,550.60 47.65,550.72 47.87,550.86 48.07,551.01 48.27,551.17 48.14,551.66 47.96,552.12 48.08,552.27 48.19,552.43 48.30,552.60 48.39,552.77 48.47,552.95 48.54,553.14 49.03,553.21 49.53,553.34 49.57,553.59 49.59,553.84" fill="#1b1b1b"/><circle cx="45.7" cy="554.1" r="1.1" fill="#eef1f8"/><polygon points="39.80,590.20 40.03,590.20 40.26,590.22 40.49,590.24 40.72,590.26 40.95,590.30 41.15,590.44 41.26,590.94 41.33,591.45 41.37,591.96 41.51,592.10 41.67,592.16 41.83,592.23 41.99,592.31 42.15,592.39 42.30,592.47 42.45,592.56 42.60,592.65 42.74,592.75 42.88,592.86 43.01,592.97 43.21,593.01 43.66,592.80 44.14,592.61 44.64,592.45 44.86,592.56 45.00,592.74 45.14,592.92 45.27,593.11 45.40,593.30 45.52,593.50 45.63,593.70 45.73,593.91 45.83,594.12 45.92,594.33 46.00,594.54 45.99,594.79 45.60,595.14 45.20,595.45 44.78,595.74 44.72,595.93 44.75,596.10 44.77,596.28 44.79,596.45 44.80,596.63 44.80,596.80 44.80,596.97 44.79,597.15 44.77,597.32 44.75,597.50 44.72,597.67 44.78,597.86 45.20,598.15 45.60,598.46 45.99,598.81 46.00,599.06 45.92,599.27 45.83,599.48 45.73,599.69 45.63,599.90 45.52,600.10 45.40,600.30 45.27,600.49 45.14,600.68 45.00,600.86 44.86,601.04 44.64,601.15 44.14,600.99 43.66,600.80 43.21,600.59 43.01,600.63 42.88,600.74 42.74,600.85 42.60,600.95 42.45,601.04 42.30,601.13 42.15,601.21 41.99,601.29 41.83,601.37 41.67,601.44 41.51,601.50 41.37,601.64 41.33,602.15 41.26,602.66 41.15,603.16 40.95,603.30 40.72,603.34 40.49,603.36 40.26,603.38 40.03,603.40 39.80,603.40 39.57,603.40 39.34,603.38 39.11,603.36 38.88,603.34 38.65,603.30 38.45,603.16 38.34,602.66 38.27,602.15 38.23,601.64 38.09,601.50 37.93,601.44 37.77,601.37 37.61,601.29 37.45,601.21 37.30,601.13 37.15,601.04 37.00,600.95 36.86,600.85 36.72,600.74 36.59,600.63 36.39,600.59 35.94,600.80 35.46,600.99 34.96,601.15 34.74,601.04 34.60,600.86 34.46,600.68 34.33,600.49 34.20,600.30 34.08,600.10 33.97,599.90 33.87,599.69 33.77,599.48 33.68,599.27 33.60,599.06 33.61,598.81 34.00,598.46 34.40,598.15 34.82,597.86 34.88,597.67 34.85,597.50 34.83,597.32 34.81,597.15 34.80,596.97 34.80,596.80 34.80,596.63 34.81,596.45 34.83,596.28 34.85,596.10 34.88,595.93 34.82,595.74 34.40,595.45 34.00,595.14 33.61,594.79 33.60,594.54 33.68,594.33 33.77,594.12 33.87,593.91 33.97,593.70 34.08,593.50 34.20,593.30 34.33,593.11 34.46,592.92 34.60,592.74 34.74,592.56 34.96,592.45 35.46,592.61 35.94,592.80 36.39,593.01 36.59,592.97 36.72,592.86 36.86,592.75 37.00,592.65 37.15,592.56 37.30,592.47 37.45,592.39 37.61,592.31 37.77,592.23 37.93,592.16 38.09,592.10 38.23,591.96 38.27,591.45 38.34,590.94 38.45,590.44 38.65,590.30 38.88,590.26 39.11,590.24 39.34,590.22 39.57,590.20" fill="none" stroke="#1b1b1b" stroke-width="1.5" stroke-linejoin="round"/><circle cx="39.8" cy="596.8" r="2.1" fill="none" stroke="#1b1b1b" stroke-width="1.5"/><g fill="none" stroke="#7a7a7a" stroke-width="1.3"><rect x="292.8" y="194.6" width="12.6" height="12" rx="1.6"/><line x1="292.8" y1="198.4" x2="305.4" y2="198.4"/><line x1="296.4" y1="193" x2="296.4" y2="196"/><line x1="301.6" y1="193" x2="301.6" y2="196"/></g><path d="M944.5,1087 L944.5,1078 C944.5,1069 951.5,1063 960.2,1063 C968.9,1063 975.8,1069 975.8,1078 L975.8,1087 Z" fill="#1a1a1a"/><path d="M960.5,1078 L957.8,1073.2 L952,1082.6 L956.8,1082.6 M960,1082.6 L968.6,1082.6 L963.2,1075.2 L957,1082.6" fill="none" stroke="#8c8c8c" stroke-width="1.6" stroke-linejoin="round" stroke-linecap="round"/><rect x="944.5" y="1085.6" width="31.3" height="1.4" fill="#555"/></svg>
<div class="abs" style="left:396.7px;top:497px;width:157px;height:64px;background:#fff;border-radius:4px;box-shadow:1px 2px 10px rgba(0,0,0,0.2);"></div>
<div class="abs" style="left:1803px;top:12px;width:22px;height:16px;border-radius:8px;background:#c0001a;"></div>
<div class="t" style="top:15.11px;font-size:10.5px;line-height:10.5px;color:#fff;font-weight:400;left:1814.00px;transform:translateX(-50%);">9+</div>
<svg width="1904" height="1087" style="pointer-events:none"><path d="M0,1075.5 A11.5,11.5 0 0 0 11.5,1087 L0,1087 Z" fill="#05080c"/><path d="M0,1075.5 A11.5,11.5 0 0 0 11.5,1087" fill="none" stroke="#ffffff" stroke-width="0.8" stroke-opacity="0.8"/></svg>
<div class="t" style="top:511.15px;font-size:14px;line-height:14px;color:#666;font-weight:400;left:408.30px;">Apr 03, 2025</div>
<div class="t" style="top:531.95px;font-size:14px;line-height:14px;color:#666;font-weight:400;left:408.30px;">Total Sales: A$421.12</div>
</body></html>
